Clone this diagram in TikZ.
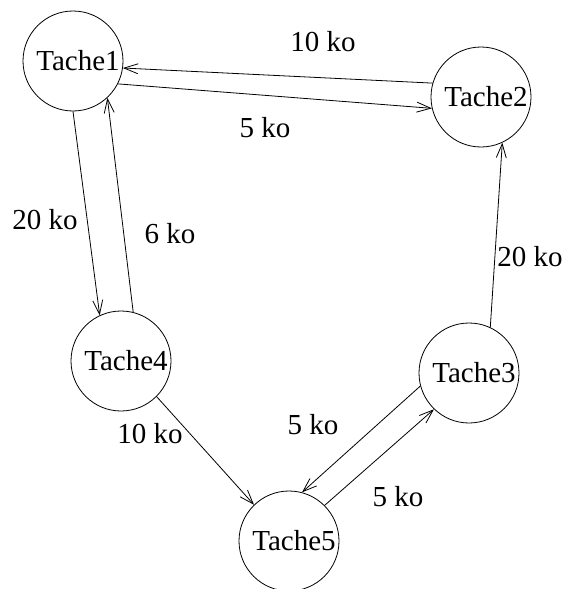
\documentclass[tikz,border=0pt]{standalone}
\usepackage{fontspec}
\setmainfont{Liberation Serif}
\usetikzlibrary{arrows.meta}
\tikzset{
  tache/.style={circle, draw, line width=0.8pt, minimum size=100pt, inner sep=0pt,
    font=\fontsize{29}{32}\selectfont},
  lien/.style={->, line width=0.8pt},
  poids/.style={font=\fontsize{29}{32}\selectfont, inner sep=0pt},
}
\newcommand{\tnom}[1]{\hspace*{10pt}#1}
\begin{document}
\begin{tikzpicture}[x=1pt, y=-1pt, >={Straight Barb[length=14pt,width=10pt]}]
\useasboundingbox (0,0) rectangle (571,589);

% Taches
\node[tache] (t1) at (73,61) {\tnom{Tache1}};
\node[tache] (t2) at (481,97) {\tnom{Tache2}};
\node[tache] (t3) at (469,373) {\tnom{Tache3}};
\node[tache] (t4) at (121,361) {\tnom{Tache4}};
\node[tache] (t5) at (289,541) {\tnom{Tache5}};

% Liens
\draw[lien] (t2.164) -- (t1.-8);
\draw[lien] (t1.-27) -- (t2.193);
\draw[lien] (t1.-90) -- (t4.115);
\draw[lien] (t4.76) -- (t1.-47);
\draw[lien] (t3.65) -- (t2.-65);
\draw[lien] (t4.-45) -- (t5.134);
\draw[lien] (t3.195) -- (t5.75);
\draw[lien] (t5.45) -- (t3.226);

% Volumes
\node[poids] (p12) at (323,42) {10 ko};
\node[poids] (p21) at (265,128) {5 ko};
\node[poids] (p14) at (45,220) {20 ko};
\node[poids] (p41) at (170,234) {6 ko};
\node[poids] (p32) at (530,257) {20 ko};
\node[poids] (p45) at (150,434) {10 ko};
\node[poids] (p35) at (313,425) {5 ko};
\node[poids] (p53) at (398,497) {5 ko};

\end{tikzpicture}
\end{document}
